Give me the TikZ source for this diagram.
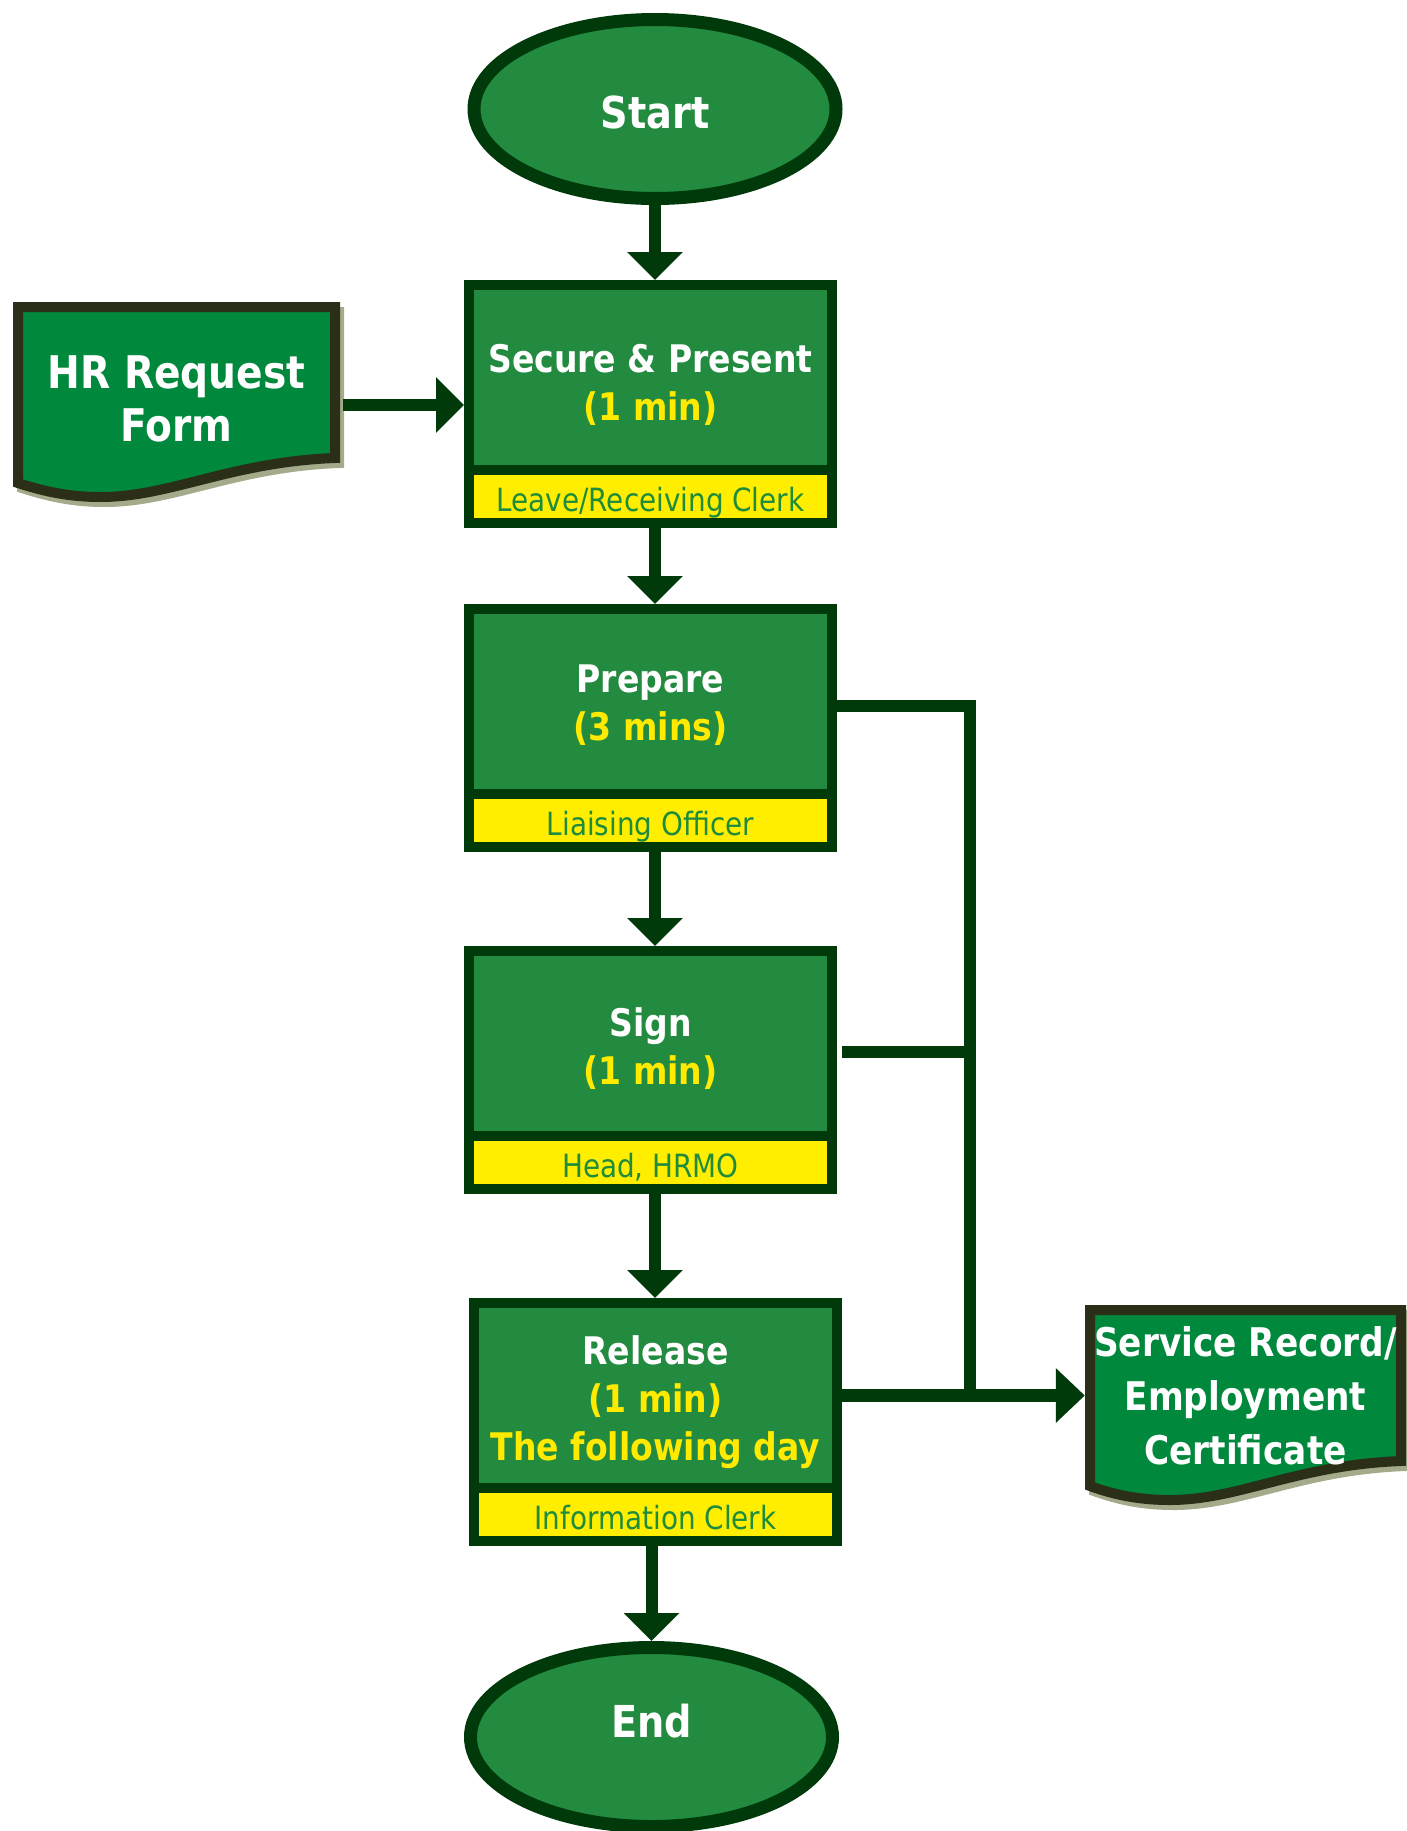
\documentclass[tikz,border=0pt]{standalone}
\usepackage{fontspec}
\setmainfont{DejaVu Sans}[FakeStretch=0.87]
\usetikzlibrary{shapes.geometric,arrows.meta,backgrounds}

\definecolor{boxgreen}{HTML}{228B3F}
\definecolor{docgreen}{HTML}{00893D}
\definecolor{dkgreen}{HTML}{003A0A}
\definecolor{docborder}{HTML}{2B2F17}
\definecolor{docshadow}{HTML}{A3AB8B}
\definecolor{roleyellow}{HTML}{FFEE00}
\definecolor{timeyellow}{HTML}{FFEA00}
\definecolor{roletext}{HTML}{1E8C3C}

% strut that lifts the first line of a step title
\newcommand\titlestrut{\rule{0pt}{42pt}}
\newcommand\tm[1]{\textcolor{timeyellow}{#1}}

% document symbol drawn around a named node: #1 node, #2 half width, #3 top offset
\newcommand\drawdoc[3]{%
  \begin{scope}[shift={(#1.center)}]
    \filldraw[fill=docshadow, draw=docshadow, line width=10pt, xshift=4pt, yshift=-5pt]
      (-#2,#3) -- (#2,#3) -- (#2,#3+151)
      .. controls ({#2-105},#3+155) and (-6,#3+190) .. (-76,#3+190)
      .. controls (-106,#3+190) and (-131,#3+185) .. (-#2,#3+176) -- cycle;
    \filldraw[fill=docgreen, draw=docborder, line width=10pt]
      (-#2,#3) -- (#2,#3) -- (#2,#3+151)
      .. controls ({#2-105},#3+155) and (-6,#3+190) .. (-76,#3+190)
      .. controls (-106,#3+190) and (-131,#3+185) .. (-#2,#3+176) -- cycle;
  \end{scope}}

\tikzset{
  term/.style={ellipse, draw=dkgreen, fill=boxgreen, line width=13pt,
    minimum width=362pt, minimum height=179pt, inner sep=0pt, text=white,
    font=\bfseries\fontsize{44}{50}\selectfont},
  proc/.style={rectangle, draw=dkgreen, fill=boxgreen, line width=10pt,
    minimum width=363pt, minimum height=185pt, inner sep=0pt, align=center,
    text=white, font=\bfseries\fontsize{38}{48}\selectfont},
  role/.style={rectangle, draw=dkgreen, fill=roleyellow, line width=10pt,
    minimum width=363pt, minimum height=53pt, inner sep=0pt, text=roletext,
    font=\fontsize{32}{38}\selectfont, text height=30pt, text depth=0pt},
  doctext/.style={inner sep=0pt, align=center, text=white},
  flow/.style={draw=dkgreen, line width=12pt, -{Triangle[length=28pt,width=54pt]}},
  link/.style={draw=dkgreen, line width=12.5pt, line join=miter},
}

\begin{document}
\begin{tikzpicture}[x=1pt, y=-1pt]
  \useasboundingbox (0,0) rectangle (1407,1831);

  % terminals
  \node[term, text height=38pt, text depth=0pt] (start) at (655,109) {Start};
  \node[term, text height=16pt, text depth=16pt] (end) at (651.5,1737) {End};

  % process steps with their role strips
  \node[proc] (sec) at (650.5,377.5) {\titlestrut Secure \& Present\\\tm{(1 min)}};
  \node[role] (secS) at (650.5,496.5) {Leave/Receiving Clerk};

  \node[proc] (prep) at (650.5,701.5) {\rule{0pt}{35pt}Prepare\\\tm{(3 mins)}};
  \node[role] (prepS) at (650.5,820.5) {Liaising Officer};

  \node[proc] (sign) at (650.5,1043.5) {\rule{0pt}{38pt}Sign\\\tm{(1 min)}};
  \node[role] (signS) at (650.5,1162.5) {Head, HRMO};

  \node[proc] (rel) at (655.5,1395.5) {\titlestrut Release\\\tm{(1 min)}\\\tm{The following day}};
  \node[role] (relS) at (655.5,1514.5) {Information Clerk};

  % documents
  \node[doctext, minimum width=317pt, font=\bfseries\fontsize{45}{53}\selectfont]
    (hr) at (176.5,399) {HR Request\\Form};
  \node[doctext, minimum width=311pt, font=\bfseries\fontsize{39.5}{54}\selectfont]
    (sr) at (1245.5,1396) {Service Record/\\Employment\\Certificate};
  \begin{scope}[on background layer]
    \fill[white] (0,0) rectangle (1407,1831);
    \drawdoc{hr}{158.5}{-92}
    \drawdoc{sr}{155.5}{-86}
  \end{scope}

  % main flow
  \draw[flow] (start.south) -- (start.south |- sec.north);
  \draw[flow] (secS.south -| start.center) -- (prep.north -| start.center);
  \draw[flow] (prepS.south -| start.center) -- (sign.north -| start.center);
  \draw[flow] (signS.south -| start.center) -- (rel.north -| start.center);
  \draw[flow] (relS.south -| end.center) -- (end.north);
  \draw[flow, shorten <=8pt] ([yshift=-6pt]hr.east) -- ([yshift=-6pt]hr.east -| sec.west);

  % output branch
  \coordinate (trunk) at (970,706);
  \coordinate (signj) at (970,1052);
  \draw[link] (prep.east |- trunk) -- (trunk) -- (trunk |- rel.east);
  \draw[link, shorten <=5pt] (sign.east |- signj) -- (signj);
  \draw[link, shorten >=5pt, -{Triangle[length=29pt,width=53pt]}] (rel.east) -- (rel.east -| sr.west);
\end{tikzpicture}
\end{document}
